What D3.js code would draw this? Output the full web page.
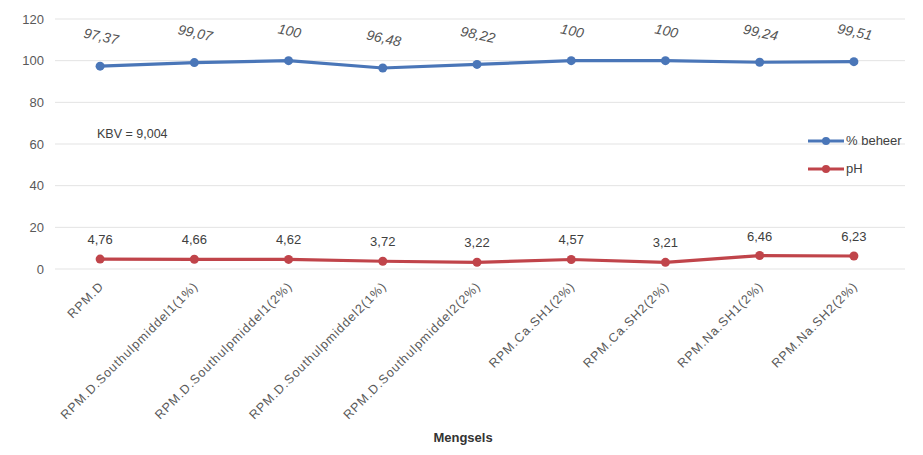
<!DOCTYPE html>
<html><head><meta charset="utf-8">
<script src="https://cdn.jsdelivr.net/npm/d3@7"></script>
<style>body{margin:0;background:#fff;}text{font-family:"Liberation Sans",Arial,sans-serif;}</style>
</head><body>
<svg id="c" width="923" height="455"></svg>
<script>
const categories = ["RPM.D","RPM.D.Southulpmiddel1(1%)","RPM.D.Southulpmiddel1(2%)","RPM.D.Southulpmiddel2(1%)","RPM.D.Southulpmiddel2(2%)","RPM.Ca.SH1(2%)","RPM.Ca.SH2(2%)","RPM.Na.SH1(2%)","RPM.Na.SH2(2%)"];
const beheer = [97.37, 99.07, 100, 96.48, 98.22, 100, 100, 99.24, 99.51];
const pH = [4.76, 4.66, 4.62, 3.72, 3.22, 4.57, 3.21, 6.46, 6.23];
const yTicks = [0, 20, 40, 60, 80, 100, 120];
const seriesNames = ["% beheer", "pH"];
const colors = ["#4a76b8", "#c0444a"];

const svg = d3.select("#c");
const x = d3.scalePoint().domain(categories).range([53, 901]).padding(0.5);
const y = d3.scaleLinear().domain([0, 120]).range([269, 19]);
const fmt = v => String(v).replace(".", ",");

// gridlines
svg.append("g").selectAll("line").data(yTicks).join("line")
  .attr("x1", 55).attr("x2", 905)
  .attr("y1", d => y(d)).attr("y2", d => y(d))
  .attr("stroke", "#e3e3e3").attr("stroke-width", 1);

// y axis
const yAxis = svg.append("g").attr("transform", "translate(44,0)")
  .call(d3.axisLeft(y).tickValues(yTicks).tickSize(0).tickPadding(0));
yAxis.select(".domain").remove();
yAxis.selectAll("text").attr("font-size", 13).attr("fill", "#595959")
  .style("font-family", "'Liberation Sans',Arial,sans-serif");

// x axis
const xAxis = svg.append("g").attr("transform", "translate(0,269)")
  .call(d3.axisBottom(x).tickSize(0).tickPadding(0));
xAxis.select(".domain").remove();
xAxis.selectAll("text")
  .attr("font-size", 12.5).attr("fill", "#595959")
  .style("font-family", "'Liberation Sans',Arial,sans-serif")
  .style("letter-spacing", "1px")
  .attr("text-anchor", "end")
  .attr("transform", "translate(4,18) rotate(-45)")
  .attr("dy", 0);

// lines
const line = d3.line().x((d, i) => x(categories[i])).y(d => y(d));
[beheer, pH].forEach((s, k) => {
  svg.append("path").datum(s).attr("d", line)
    .attr("fill", "none").attr("stroke", colors[k]).attr("stroke-width", 3.2);
  svg.append("g").selectAll("circle").data(s).join("circle")
    .attr("cx", (d, i) => x(categories[i])).attr("cy", d => y(d)).attr("r", 4.5)
    .attr("fill", colors[k]);
});

// data labels
svg.append("g").selectAll("text").data(beheer).join("text")
  .attr("transform", (d, i) => `translate(${x(categories[i])},${y(d) - 25}) rotate(12)`)
  .attr("text-anchor", "middle").attr("font-size", 14).attr("font-style", "italic")
  .attr("fill", "#555").text(d => fmt(d));
svg.append("g").selectAll("text").data(pH).join("text")
  .attr("x", (d, i) => x(categories[i])).attr("y", d => y(d) - 15)
  .attr("text-anchor", "middle").attr("font-size", 13)
  .attr("fill", "#404040").text(d => fmt(d));

// annotation
svg.append("text").attr("x", 97).attr("y", 138).attr("font-size", 12.5)
  .attr("fill", "#404040").text("KBV = 9,004");

// legend
seriesNames.forEach((n, k) => {
  const ly = 141 + k * 28;
  svg.append("line").attr("x1", 808).attr("x2", 844).attr("y1", ly).attr("y2", ly)
    .attr("stroke", colors[k]).attr("stroke-width", 3);
  svg.append("circle").attr("cx", 826).attr("cy", ly).attr("r", 4).attr("fill", colors[k]);
  svg.append("text").attr("x", 846).attr("y", ly + 4).attr("font-size", 13)
    .attr("fill", "#404040").text(n);
});

// axis title
svg.append("text").attr("x", 463).attr("y", 442).attr("text-anchor", "middle")
  .attr("font-size", 13).attr("font-weight", "bold").attr("fill", "#333").text("Mengsels");
</script>
</body></html>
